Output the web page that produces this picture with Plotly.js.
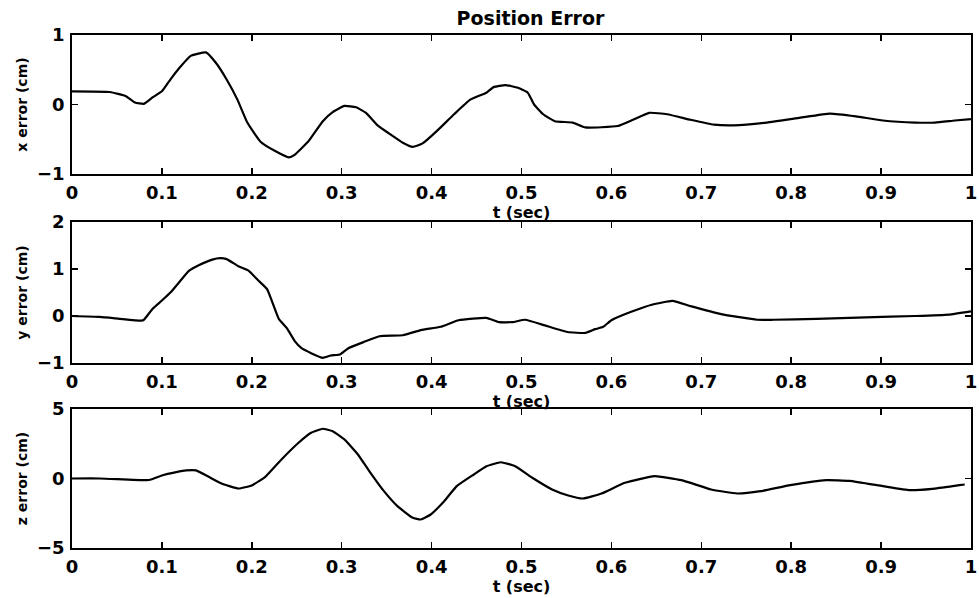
<!DOCTYPE html>
<html>
<head>
<meta charset="utf-8">
<script src="https://cdn.plot.ly/plotly-3.0.1.min.js"></script>
<style>html,body{margin:0;padding:0;background:#fff;}</style>
</head>
<body>
<div id="chart" style="width:979px;height:598px;"></div>
<script>
// x error (cm)
const tX = [0, 0.042, 0.06, 0.07, 0.08, 0.09, 0.1, 0.11, 0.121, 0.132, 0.149, 0.16, 0.172, 0.184, 0.195, 0.21, 0.226, 0.241, 0.248, 0.263, 0.279, 0.29, 0.303, 0.316, 0.327, 0.34, 0.353, 0.368, 0.379, 0.39, 0.406, 0.425, 0.443, 0.461, 0.469, 0.482, 0.496, 0.507, 0.514, 0.524, 0.537, 0.557, 0.571, 0.607, 0.624, 0.642, 0.662, 0.688, 0.714, 0.736, 0.773, 0.81, 0.843, 0.872, 0.902, 0.938, 0.96, 0.982, 1.0];
const xErr = [0.19, 0.18, 0.12, 0.03, 0.01, 0.105, 0.19, 0.37, 0.55, 0.70, 0.75, 0.60, 0.36, 0.07, -0.26, -0.54, -0.67, -0.76, -0.72, -0.53, -0.24, -0.11, -0.02, -0.04, -0.12, -0.30, -0.42, -0.55, -0.61, -0.56, -0.38, -0.14, 0.07, 0.17, 0.25, 0.28, 0.24, 0.17, 0.0, -0.14, -0.24, -0.26, -0.33, -0.31, -0.22, -0.12, -0.14, -0.22, -0.29, -0.30, -0.26, -0.19, -0.13, -0.17, -0.23, -0.26, -0.26, -0.23, -0.21];

// y error (cm)
const tY = [0, 0.031, 0.053, 0.077, 0.08, 0.09, 0.1, 0.11, 0.121, 0.13, 0.141, 0.156, 0.165, 0.172, 0.185, 0.196, 0.207, 0.217, 0.23, 0.239, 0.248, 0.255, 0.266, 0.279, 0.288, 0.298, 0.307, 0.325, 0.342, 0.368, 0.388, 0.41, 0.43, 0.461, 0.475, 0.49, 0.504, 0.526, 0.551, 0.571, 0.582, 0.591, 0.6, 0.622, 0.645, 0.668, 0.688, 0.722, 0.762, 0.78, 0.828, 0.883, 0.938, 0.975, 1.0];
const yErr = [0.0, -0.02, -0.06, -0.10, -0.08, 0.16, 0.33, 0.51, 0.76, 0.96, 1.08, 1.20, 1.23, 1.21, 1.06, 0.97, 0.76, 0.57, -0.06, -0.26, -0.54, -0.68, -0.79, -0.89, -0.84, -0.82, -0.69, -0.55, -0.43, -0.41, -0.30, -0.23, -0.09, -0.04, -0.13, -0.13, -0.08, -0.20, -0.34, -0.36, -0.28, -0.23, -0.09, 0.09, 0.24, 0.32, 0.21, 0.04, -0.08, -0.08, -0.06, -0.03, 0.0, 0.03, 0.10];

// z error (cm)
const tZ = [0, 0.031, 0.083, 0.088, 0.1, 0.116, 0.127, 0.138, 0.152, 0.167, 0.185, 0.2, 0.215, 0.233, 0.252, 0.266, 0.279, 0.29, 0.303, 0.318, 0.332, 0.347, 0.362, 0.379, 0.388, 0.399, 0.414, 0.428, 0.447, 0.461, 0.477, 0.493, 0.512, 0.534, 0.552, 0.568, 0.589, 0.615, 0.648, 0.678, 0.711, 0.74, 0.766, 0.799, 0.839, 0.865, 0.902, 0.932, 0.957, 0.987, 0.993];
const zErr = [0.0, 0.0, -0.12, -0.07, 0.22, 0.46, 0.58, 0.58, 0.12, -0.38, -0.72, -0.50, 0.12, 1.37, 2.57, 3.29, 3.58, 3.40, 2.81, 1.73, 0.41, -0.91, -1.99, -2.83, -2.95, -2.59, -1.63, -0.55, 0.29, 0.88, 1.17, 0.88, 0.05, -0.79, -1.22, -1.44, -1.08, -0.31, 0.17, -0.12, -0.79, -1.08, -0.91, -0.48, -0.12, -0.17, -0.55, -0.84, -0.74, -0.48, -0.43];

const xTickVals = [0, 0.1, 0.2, 0.3, 0.4, 0.5, 0.6, 0.7, 0.8, 0.9, 1];
const xTickText = ['0', '0.1', '0.2', '0.3', '0.4', '0.5', '0.6', '0.7', '0.8', '0.9', '1'];
const yTicks1 = [-1, 0, 1];
const yTicks2 = [-1, 0, 1, 2];
const yTicks3 = [-5, 0, 5];

const titleText = 'Position Error';
const xTitle = 't (sec)';
const yTitles = ['x error (cm)', 'y error (cm)', 'z error (cm)'];

const lineStyle = {color: '#000', width: 2.2, shape: 'spline', smoothing: 0.4};
const traces = [
  {x: tX, y: xErr, xaxis: 'x', yaxis: 'y', mode: 'lines', line: lineStyle, hoverinfo: 'skip'},
  {x: tY, y: yErr, xaxis: 'x2', yaxis: 'y2', mode: 'lines', line: lineStyle, hoverinfo: 'skip'},
  {x: tZ, y: zErr, xaxis: 'x3', yaxis: 'y3', mode: 'lines', line: lineStyle, hoverinfo: 'skip'}
];

const tickFont = {family: 'DejaVu Sans', size: 18, color: '#000', weight: 'bold'};
function xAxis(anchor) {
  return {
    anchor: anchor, domain: [0, 1], range: [0, 1],
    tickvals: xTickVals, ticktext: xTickText,
    ticks: 'inside', ticklen: 6, tickwidth: 1.5, tickcolor: '#000',
    showline: true, linecolor: '#000', linewidth: 1.8, mirror: 'ticks',
    showgrid: false, zeroline: false, tickfont: tickFont,
    ticklabeloverflow: 'allow', ticklabelstandoff: 2,
    title: {text: xTitle, font: {family: 'DejaVu Sans', size: 16, color: '#000', weight: 'bold'}, standoff: 3}
  };
}
function yAxis(anchor, domain, range, ticks, title) {
  return {
    anchor: anchor, domain: domain, range: range,
    tickvals: ticks,
    ticks: 'inside', ticklen: 6, tickwidth: 1.5, tickcolor: '#000',
    showline: true, linecolor: '#000', linewidth: 1.8, mirror: 'ticks',
    showgrid: false, zeroline: false, tickfont: tickFont, ticklabelstandoff: 2,
    title: {text: title, font: {family: 'DejaVu Sans', size: 14, color: '#000', weight: 'bold'}, standoff: 6}
  };
}

const layout = {
  width: 979, height: 598,
  margin: {l: 72, r: 8, t: 0, b: 0},
  paper_bgcolor: '#fff', plot_bgcolor: '#fff',
  showlegend: false,
  font: {family: 'DejaVu Sans', color: '#000', weight: 'bold'},
  title: {text: titleText, font: {family: 'DejaVu Sans', size: 19, color: '#000', weight: 'bold'},
          x: 0.51, xref: 'paper', y: 1 - 18 / 598, yref: 'container', yanchor: 'middle'},
  xaxis: xAxis('y'),
  xaxis2: xAxis('y2'),
  xaxis3: xAxis('y3'),
  yaxis: yAxis('x', [1 - 174 / 598, 1 - 35 / 598], [-1, 1], yTicks1, yTitles[0]),
  yaxis2: yAxis('x2', [1 - 363 / 598, 1 - 222 / 598], [-1, 2], yTicks2, yTitles[1]),
  yaxis3: yAxis('x3', [1 - 548 / 598, 1 - 409 / 598], [-5, 5], yTicks3, yTitles[2])
};

Plotly.newPlot('chart', traces, layout, {staticPlot: true, displayModeBar: false});
</script>
</body>
</html>
